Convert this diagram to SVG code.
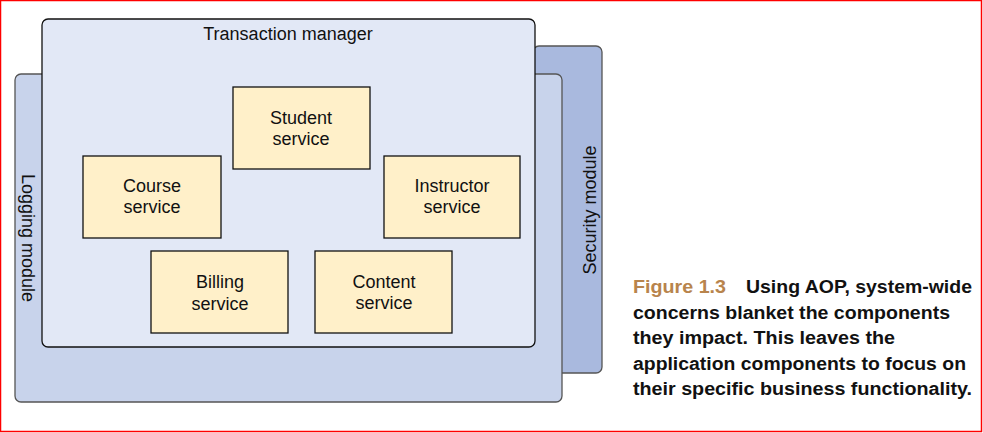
<svg xmlns="http://www.w3.org/2000/svg" width="983" height="433" viewBox="0 0 983 433">
<style>
.lbl{font-family:"Liberation Sans",Arial,sans-serif;font-size:18px;fill:#111;text-anchor:middle}
.svc{fill:#fff0c9;stroke:#111;stroke-width:1.3}
.cap{font-family:"Liberation Sans",Arial,sans-serif;font-size:18px;font-weight:bold;fill:#111}
</style>
<rect x="0.5" y="0.5" width="981" height="431" fill="#fff" stroke="#ff0000" stroke-width="1.5"/>
<g id="security">
<rect x="533" y="46" width="69" height="327" rx="6" fill="#a9b9de" stroke="#555" stroke-width="1.3"/>
<text class="lbl" transform="translate(596,210) rotate(-90)">Security module</text>
</g>
<g id="logging">
<rect x="15" y="74" width="547" height="328" rx="6" fill="#c8d3eb" stroke="#555" stroke-width="1.3"/>
<text class="lbl" transform="translate(22,238) rotate(90)">Logging module</text>
</g>
<g id="transaction">
<rect x="42" y="19" width="493" height="328" rx="6" fill="#e2e8f6" stroke="#111" stroke-width="1.3"/>
<text class="lbl" x="288" y="40">Transaction manager</text>
</g>
<g id="student">
<rect class="svc" x="233" y="87" width="137" height="82"/>
<text class="lbl" x="301" y="124">Student</text><text class="lbl" x="301" y="145">service</text>
</g>
<g id="course">
<rect class="svc" x="83" y="156" width="138" height="82"/>
<text class="lbl" x="152" y="192">Course</text><text class="lbl" x="152" y="213">service</text>
</g>
<g id="instructor">
<rect class="svc" x="384" y="156" width="136" height="82"/>
<text class="lbl" x="452" y="192">Instructor</text><text class="lbl" x="452" y="213">service</text>
</g>
<g id="billing">
<rect class="svc" x="151" y="251" width="137" height="82"/>
<text class="lbl" x="220" y="288">Billing</text><text class="lbl" x="220" y="310">service</text>
</g>
<g id="content">
<rect class="svc" x="315" y="251" width="137" height="82"/>
<text class="lbl" x="384" y="288">Content</text><text class="lbl" x="384" y="309">service</text>
</g>
<g id="connectors"></g>
<g id="caption">
<text class="cap" x="633" y="293"><tspan fill="#b8844c" textLength="93" lengthAdjust="spacingAndGlyphs">Figure 1.3</tspan><tspan x="746" textLength="226" lengthAdjust="spacingAndGlyphs">Using AOP, system-wide</tspan></text>
<text class="cap" x="633" y="318.5" textLength="317" lengthAdjust="spacingAndGlyphs">concerns blanket the components</text>
<text class="cap" x="633" y="344" textLength="262" lengthAdjust="spacingAndGlyphs">they impact. This leaves the</text>
<text class="cap" x="633" y="369.5" textLength="333" lengthAdjust="spacingAndGlyphs">application components to focus on</text>
<text class="cap" x="633" y="395" textLength="339" lengthAdjust="spacingAndGlyphs">their specific business functionality.</text>
</g>
</svg>
